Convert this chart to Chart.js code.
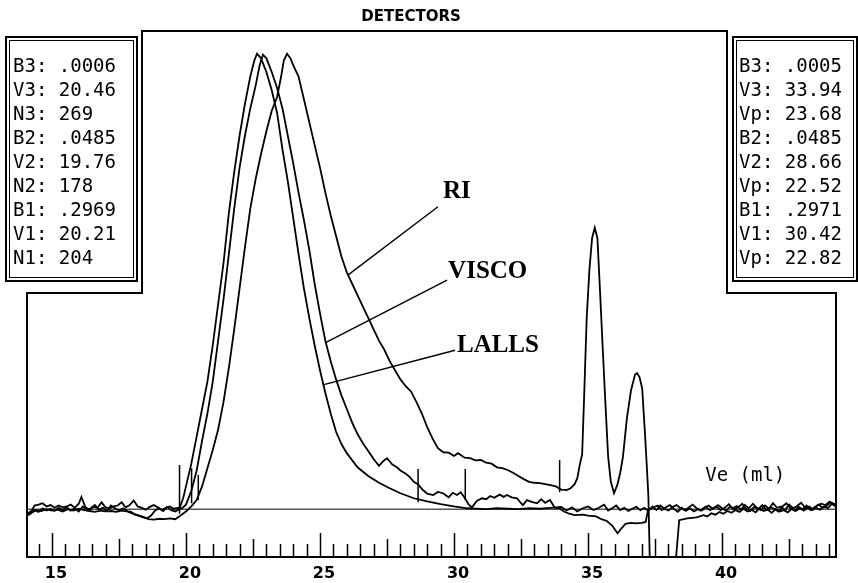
<!DOCTYPE html>
<html>
<head>
<meta charset="utf-8">
<title>Detectors</title>
<script src="https://cdn.jsdelivr.net/npm/chart.js@4.4.0/dist/chart.umd.min.js"></script>
<style>
    html, body { margin: 0; padding: 0; background: #fff; }
</style>
</head>
<body>
<canvas id="chartDetectors" width="858" height="583"></canvas>
<script>
// elution volume (ml) , detector signal (% of peak)
var lallsTrace = [
    [14.05, -1.2], [14.2, -0.5], [14.35, -0.2], [14.5, -0.6], [14.65, 0.2], [14.8, -0.3], [14.95, 0.1], [15.1, -0.4],
    [15.25, 0.3], [15.4, -0.2], [15.55, 0.4], [15.7, -0.3], [15.85, 0.2], [16.0, -0.5], [16.15, 0.6], [16.3, -0.2],
    [16.45, 0.2], [16.6, 0.9], [16.75, -0.1], [16.9, 0.3], [17.05, -0.4], [17.2, 0.8], [17.35, 0.2], [17.5, -0.3],
    [17.65, 0.2], [17.8, -0.4], [17.95, -0.6], [18.1, -1.2], [18.25, -1.5], [18.4, -1.8], [18.55, -2.0], [18.7, -1.4],
    [18.85, -0.3], [19.0, 0.2], [19.15, -0.4], [19.3, 0.5], [19.45, -0.2], [19.6, -0.5], [19.75, 0],
    [19.9, 2.5], [20.0, 5], [20.2, 10], [20.4, 16], [20.6, 22], [20.8, 28], [21.0, 36], [21.2, 45], [21.4, 54],
    [21.6, 65], [21.8, 74], [22.0, 82], [22.2, 89], [22.4, 95], [22.55, 98.5], [22.65, 100], [22.8, 99], [23.0, 96],
    [23.2, 92], [23.4, 87], [23.6, 79], [23.8, 72], [24.0, 64], [24.2, 56], [24.4, 48.5], [24.6, 42], [24.8, 36],
    [25.0, 30.5], [25.2, 25.5], [25.4, 21], [25.6, 17], [25.8, 14.3], [26.0, 12.3], [26.4, 9.2], [26.8, 7.3],
    [27.2, 5.8], [27.6, 4.6], [28.0, 3.5], [28.5, 2.4], [29.0, 1.7], [29.5, 1.1], [30.0, 0.6], [30.5, 0.2],
    [30.8, 0.1], [31.2, 0], [31.6, 0.2], [32.0, 0.1], [32.4, 0], [32.8, 0.2], [33.2, 0.1], [33.6, 0.3], [34.0, 0.5],
    [34.2, -0.3], [34.4, 0.4], [34.6, -0.5], [34.8, 0.2], [35.0, 0.6], [35.2, -0.2], [35.4, 0.3], [35.6, 1.0],
    [35.75, -0.3], [35.9, 0.2], [36.05, 0.8], [36.2, -0.2], [36.35, 0.3], [36.5, -0.4], [36.65, 0.1], [36.8, 0.5],
    [36.95, -0.2], [37.1, 0.3], [37.25, -0.4], [37.4, 0.6], [37.55, -0.2], [37.7, 0.8], [37.85, 0.1], [38.0, -0.3],
    [38.15, 0.5], [38.3, 0.9], [38.45, 0.2], [38.6, -0.2], [38.75, 0.3], [38.9, 1.0], [39.05, 0.2], [39.2, -0.3],
    [39.35, 0.4], [39.5, 0.8], [39.65, 0.1], [39.8, 0.5], [39.95, -0.2], [40.1, 0.3], [40.25, 1.1], [40.4, 0.2],
    [40.55, 0.7], [40.7, -0.1], [40.85, 0.9], [41.0, 0.2], [41.15, 1.2], [41.3, 0.3], [41.45, -0.2], [41.6, 0.8],
    [41.75, 0.1], [41.9, 1.3], [42.05, 0.3], [42.2, 0.6], [42.35, -0.2], [42.5, 1.0], [42.65, 0.2], [42.8, 0.7],
    [42.95, 1.4], [43.1, 0.3], [43.25, 0.6], [43.4, -0.1], [43.55, 0.8], [43.7, 1.2], [43.85, 0.9], [44.0, 1.6], [44.25, 1.0]
];

var viscoTrace = [
    [14.05, -1.3], [14.2, -0.8], [14.35, 0.8], [14.5, 1.0], [14.65, 1.3], [14.8, 0.6], [14.95, 0.9], [15.1, 0.3],
    [15.25, 0.8], [15.4, 0.4], [15.55, 0.6], [15.7, 1.0], [15.85, 0.3], [16.0, 1.2], [16.1, 2.7], [16.25, 0.4],
    [16.4, -0.1], [16.55, 0.5], [16.7, 0.3], [16.85, 1.5], [17.0, 0.4], [17.15, 0.2], [17.3, 0.6], [17.45, 0.8],
    [17.6, 1.5], [17.75, 0.4], [17.9, 0.9], [18.05, 1.9], [18.2, 0.6], [18.35, 0.3], [18.5, -0.1], [18.65, 0.5],
    [18.8, 0.9], [18.95, 0.4], [19.1, -0.2], [19.25, 0.3], [19.4, 0.6], [19.55, 0.1], [19.7, 0.3], [19.85, 0.2],
    [20.0, 1], [20.2, 4], [20.4, 8.5], [20.6, 15], [20.8, 21], [21.0, 28], [21.2, 37], [21.4, 46], [21.6, 56],
    [21.8, 66], [22.0, 75], [22.2, 82], [22.4, 88], [22.6, 93], [22.75, 97.5], [22.87, 99.8], [23.0, 99], [23.2, 96],
    [23.4, 92.5], [23.6, 88], [23.8, 82], [24.0, 76], [24.2, 69.5], [24.4, 63.5], [24.6, 57], [24.8, 49.5], [25.0, 43],
    [25.2, 37], [25.4, 32.5], [25.6, 28.5], [25.8, 25], [26.0, 22], [26.2, 19], [26.4, 16.5], [26.6, 14.5],
    [26.8, 12.8], [27.0, 11], [27.2, 9.5], [27.35, 10.5], [27.5, 11.2], [27.7, 9.8], [27.87, 9.2], [28.0, 8.5],
    [28.2, 7.8], [28.36, 7.0], [28.5, 6.0], [28.65, 5.5], [28.84, 4.2], [29.0, 3.4], [29.22, 3.1], [29.4, 3.8],
    [29.59, 3.5], [29.8, 2.6], [29.95, 3.6], [30.11, 3.1], [30.25, 3.7], [30.41, 2.4], [30.55, 1.0], [30.67, 0.4],
    [30.85, 1.8], [31.04, 2.4], [31.2, 2.2], [31.35, 2.9], [31.5, 2.5], [31.7, 3.2], [31.85, 2.7], [31.98, 3.1],
    [32.15, 2.6], [32.35, 2.4], [32.5, 1.3], [32.57, 0.9], [32.72, 2.0], [32.9, 1.6], [33.1, 1.3], [33.25, 2.2],
    [33.4, 1.4], [33.58, 2.0], [33.77, 0.2], [33.9, 0.3], [34.1, -0.5], [34.3, -1], [34.5, -1.3], [34.8, -1.2],
    [35.0, -1.4], [35.3, -1.6], [35.5, -2.2], [35.7, -2.6], [35.9, -3.6], [36.1, -5.3], [36.25, -4.2], [36.4, -3.2],
    [36.6, -3.0], [36.8, -3.1], [37.0, -3.0], [37.15, -2.8], [37.2, -1.3], [37.25, 0],
    [37.4, 0.3], [37.6, 0.8], [37.75, -0.2], [37.9, 0.4], [38.05, 0.9], [38.2, 0.1], [38.35, -0.6], [38.5, 0.3],
    [38.65, -0.4], [38.8, 0.2], [38.95, -0.5], [39.1, 0.0], [39.25, -0.3], [39.4, 0.5], [39.55, -0.2], [39.7, 0.3],
    [39.85, 0.9], [40.0, 0.2], [40.15, -0.3], [40.3, 0.6], [40.45, -0.1], [40.6, 0.4], [40.75, 1.2], [40.9, 0.1],
    [41.05, -0.4], [41.2, 0.5], [41.35, 0.0], [41.5, 0.9], [41.65, -0.2], [41.8, 0.4], [41.95, 0.1], [42.1, -0.5],
    [42.25, 0.6], [42.4, 1.3], [42.55, 0.2], [42.7, -0.3], [42.85, 0.5], [43.0, 0.0], [43.15, 0.8], [43.3, -0.2],
    [43.45, 0.4], [43.6, 1.0], [43.75, 0.3], [43.9, 0.7], [44.05, 1.5], [44.25, 0.8]
];

var riTrace = [
    [14.05, -1.5], [14.2, -1.0], [14.4, -0.2], [14.6, -0.4], [14.8, 0.0], [15.0, -0.3], [15.2, -0.1], [15.4, -0.5],
    [15.6, 0.0], [15.8, -0.3], [16.0, 0.1], [16.2, -0.2], [16.4, -0.4], [16.6, -0.6], [16.8, -0.3], [17.0, -0.5],
    [17.2, -0.4], [17.4, -0.6], [17.6, -0.3], [17.8, -0.5], [18.0, -0.9], [18.2, -1.3], [18.4, -1.7], [18.6, -2.2],
    [18.8, -2.3], [19.0, -2.1], [19.2, -2.2], [19.4, -2.0], [19.6, -2.2], [19.8, -1.4], [20.0, -0.5], [20.2, 0.6],
    [20.4, 2], [20.6, 5], [20.8, 9], [21.0, 13], [21.2, 17.5], [21.4, 23.5], [21.6, 31], [21.8, 39.5], [22.0, 48.5],
    [22.2, 57.5], [22.4, 66], [22.6, 72.5], [22.8, 78], [23.0, 83], [23.2, 87.5], [23.4, 90.5], [23.55, 95],
    [23.65, 98.5], [23.77, 100], [23.9, 99], [24.0, 97.5], [24.2, 95], [24.4, 90], [24.6, 85], [24.8, 80], [25.0, 75],
    [25.2, 69.5], [25.4, 64.5], [25.6, 60], [25.8, 55.5], [26.0, 52], [26.2, 49.5], [26.4, 47], [26.6, 44.5],
    [26.8, 42], [27.0, 39.5], [27.2, 37], [27.4, 35], [27.6, 32.5], [27.8, 30.5], [28.0, 28.5], [28.2, 27],
    [28.4, 25.8], [28.6, 23.5], [28.8, 21], [29.0, 18], [29.2, 15.5], [29.4, 13.4], [29.6, 12.5], [29.8, 12.4],
    [30.0, 11.7], [30.15, 12.3], [30.25, 11.9], [30.4, 11.3], [30.6, 11.2], [30.8, 10.7], [31.0, 10.8], [31.2, 10.2],
    [31.4, 10.0], [31.6, 9.2], [31.8, 9.0], [32.0, 8.6], [32.2, 8.0], [32.4, 7.3], [32.6, 6.6], [32.8, 6.0],
    [33.0, 5.8], [33.2, 5.7], [33.4, 5.5], [33.6, 5.3], [33.8, 5.0], [34.0, 4.3], [34.2, 4.2], [34.35, 4.6],
    [34.5, 5.5], [34.6, 6.8], [34.7, 10], [34.78, 12], [34.85, 24], [34.95, 42], [35.05, 52.5], [35.15, 59.5],
    [35.25, 61.8], [35.35, 59.5], [35.45, 47.5], [35.55, 35], [35.65, 23], [35.75, 11.5], [35.85, 6], [35.97, 3.5],
    [36.1, 5.5], [36.2, 8], [36.3, 11.4], [36.45, 20], [36.6, 26], [36.75, 29.5], [36.83, 29.9], [36.92, 29],
    [37.02, 26.5], [37.12, 17], [37.2, 8.6], [37.25, 3], [37.31, -13], [38.25, -13], [38.4, -2.4], [38.7, -2],
    [39.05, -1.8], [39.3, -1.3], [39.45, -1.6], [39.6, -0.9], [39.75, -1.2], [39.9, -0.6], [40.05, -1.0], [40.2, -0.4],
    [40.35, -0.8], [40.5, -0.2], [40.65, -0.6], [40.8, 0.1], [40.95, -0.5], [41.1, -0.1], [41.25, -0.7], [41.4, 0.2],
    [41.55, -0.4], [41.7, -0.1], [41.85, -0.8], [42.0, 0.0], [42.15, -0.5], [42.3, -0.2], [42.45, -0.7], [42.6, 0.1],
    [42.75, -0.4], [42.9, 0.2], [43.05, -0.3], [43.2, 0.4], [43.35, -0.2], [43.5, 0.3], [43.65, -0.1], [43.8, 0.6],
    [43.95, 0.2], [44.1, 1.2], [44.25, 0.5]
];

// integration limits (ml) with the foot and top of each marker
var markerVol = [19.76, 20.21, 20.46, 28.66, 30.42, 33.94];
var markerBase = [-1.0, 1.3, 2.0, 1.5, 2.0, 3.7];
var markerTop = [9.7, 9.0, 7.5, 8.8, 8.8, 10.8];

var tickValues = [15, 20, 25, 30, 35, 40];
var tickLabels = ["15", "20", "25", "30", "35", "40"];

var leftBoxLines = ["B3: .0006", "V3: 20.46", "N3: 269", "B2: .0485", "V2: 19.76", "N2: 178", "B1: .2969", "V1: 20.21", "N1: 204"];
var rightBoxLines = ["B3: .0005", "V3: 33.94", "Vp: 23.68", "B2: .0485", "V2: 28.66", "Vp: 22.52", "B1: .2971", "V1: 30.42", "Vp: 22.82"];

// curve labels: text position and leader line (from, to) in data units
var curveLabels = [
    { text: "RI", at: [29.59, 69.7], from: [29.40, 66.4], to: [26.04, 51.4] },
    { text: "VISCO", at: [29.78, 52.1], from: [29.74, 50.3], to: [25.19, 36.5] },
    { text: "LALLS", at: [30.11, 36.0], from: [30.04, 34.9], to: [25.11, 27.3] }
];

var xMin = 14.07, xMax = 44.25;
var yMin = -10.5, yMax = 105;

function toPoints(trace) {
    var pts = [];
    for (var i = 0; i < trace.length; i++) {
        pts.push({ x: trace[i][0], y: trace[i][1] });
    }
    return pts;
}

function markerPoints() {
    var pts = [];
    for (var i = 0; i < markerVol.length; i++) {
        pts.push({ x: markerVol[i], y: markerBase[i] });
        pts.push({ x: markerVol[i], y: markerTop[i] });
        pts.push({ x: markerVol[i], y: null });
    }
    return pts;
}

function drawBox(ctx, x, y, w, h, lines, textX) {
    ctx.fillStyle = "#fff";
    ctx.fillRect(x, y, w, h);
    ctx.strokeStyle = "#000";
    ctx.lineWidth = 2;
    ctx.strokeRect(x + 1, y + 1, w - 2, h - 2);
    ctx.lineWidth = 1;
    ctx.strokeRect(x + 4.5, y + 4.5, w - 9, h - 9);
    ctx.fillStyle = "#000";
    ctx.font = "19px 'DejaVu Sans Mono'";
    ctx.textAlign = "left";
    ctx.textBaseline = "alphabetic";
    for (var i = 0; i < lines.length; i++) {
        ctx.fillText(lines[i], textX, 72 + i * 24);
    }
}

var framePlugin = {
    id: "frame",
    afterDraw: function (chart) {
        var ctx = chart.ctx;
        var area = chart.chartArea;
        var xs = chart.scales.x;
        var ys = chart.scales.y;
        var stepY = 293, innerLeft = 142, innerRight = 727;
        ctx.save();

        // stepped outline of the plot
        ctx.strokeStyle = "#000";
        ctx.lineWidth = 2;
        ctx.beginPath();
        ctx.moveTo(area.left, area.bottom);
        ctx.lineTo(area.left, stepY);
        ctx.lineTo(innerLeft, stepY);
        ctx.lineTo(innerLeft, area.top);
        ctx.lineTo(innerRight, area.top);
        ctx.lineTo(innerRight, stepY);
        ctx.lineTo(area.right, stepY);
        ctx.lineTo(area.right, area.bottom);
        ctx.closePath();
        ctx.stroke();

        // ticks pointing up from the bottom axis, every 0.5 ml
        ctx.lineWidth = 1.5;
        ctx.beginPath();
        for (var k = Math.ceil(xs.min * 2); k <= Math.floor(xs.max * 2); k++) {
            var px = Math.round(xs.getPixelForValue(k / 2)) + 0.5;
            var len = (k % 10 === 0) ? 24 : (k % 5 === 0 ? 18 : 13);
            ctx.moveTo(px, area.bottom);
            ctx.lineTo(px, area.bottom - len);
        }
        ctx.stroke();

        ctx.fillStyle = "#000";
        ctx.font = "bold 16px 'DejaVu Sans'";
        ctx.textAlign = "center";
        ctx.textBaseline = "alphabetic";
        for (var i = 0; i < tickValues.length; i++) {
            ctx.fillText(tickLabels[i], xs.getPixelForValue(tickValues[i]) + 4, 578);
        }

        ctx.font = "19px 'DejaVu Sans Mono'";
        ctx.textAlign = "left";
        ctx.fillText("Ve (ml)", xs.getPixelForValue(39.37), ys.getPixelForValue(6.1));

        ctx.font = "bold 15px 'DejaVu Sans'";
        ctx.textAlign = "center";
        ctx.fillText("DETECTORS", 411, 21);

        // curve names with leader lines
        ctx.lineWidth = 1.4;
        ctx.font = "bold 25px 'Liberation Serif'";
        ctx.textAlign = "left";
        ctx.textBaseline = "middle";
        for (var j = 0; j < curveLabels.length; j++) {
            var c = curveLabels[j];
            ctx.beginPath();
            ctx.moveTo(xs.getPixelForValue(c.from[0]), ys.getPixelForValue(c.from[1]));
            ctx.lineTo(xs.getPixelForValue(c.to[0]), ys.getPixelForValue(c.to[1]));
            ctx.stroke();
            ctx.fillText(c.text, xs.getPixelForValue(c.at[0]), ys.getPixelForValue(c.at[1]));
        }

        drawBox(ctx, 5, 36, 133, 246, leftBoxLines, 13);
        drawBox(ctx, 732, 36, 126, 246, rightBoxLines, 739);
        ctx.restore();
    }
};

function lineSet(points, width) {
    return {
        data: points,
        borderColor: "#000",
        borderWidth: width,
        pointRadius: 0,
        tension: 0,
        fill: false,
        spanGaps: false
    };
}

new Chart("chartDetectors", {
    type: "line",
    data: {
        datasets: [
            lineSet([{ x: xMin, y: 0 }, { x: xMax, y: 0 }], 1),
            lineSet(toPoints(lallsTrace), 1.8),
            lineSet(toPoints(viscoTrace), 1.8),
            lineSet(toPoints(riTrace), 1.8),
            lineSet(markerPoints(), 1.5)
        ]
    },
    options: {
        responsive: false,
        animation: false,
        layout: { padding: { left: 27, right: 22, top: 31, bottom: 26 } },
        scales: {
            x: { type: "linear", min: xMin, max: xMax, display: false },
            y: { type: "linear", min: yMin, max: yMax, display: false }
        },
        plugins: {
            legend: { display: false },
            tooltip: { enabled: false }
        }
    },
    plugins: [framePlugin]
});
</script>
</body>
</html>
